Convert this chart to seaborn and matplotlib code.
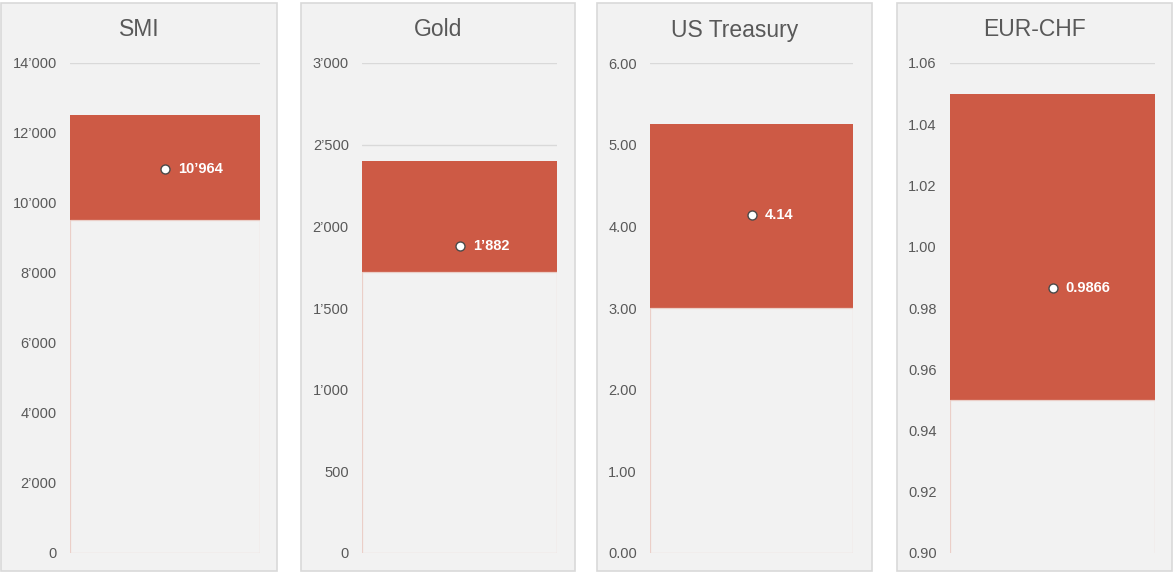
import numpy as np
import pandas as pd
import matplotlib
matplotlib.use("Agg")
import matplotlib.pyplot as plt
from matplotlib.patches import Rectangle
from matplotlib.ticker import FuncFormatter, MultipleLocator
import seaborn as sns

# ranges per market
names = ["SMI", "Gold", "US Treasury", "EUR-CHF"]
low = [9500, 1720, 3.00, 0.95]
high = [12500, 2400, 5.25, 1.05]
current = [10964, 1882, 4.14, 0.9866]
current_labels = ["10\u2019964", "1\u2019882", "4.14", "0.9866"]

# axis settings
y_min = [0, 0, 0, 0.90]
y_max = [14000, 3000, 6.00, 1.06]
y_step = [2000, 500, 1.00, 0.02]
tick_fmt = ["thousands", "thousands", "2f", "2f"]

sns.set_theme(style="white")
plt.rcParams["font.family"] = ["Liberation Sans", "DejaVu Sans"]

RED = "#CD5A45"
BG = "#F2F2F2"
TXT = "#595959"

fig = plt.figure(figsize=(11.74, 5.72), dpi=100)
fig.patch.set_facecolor("white")

W, H = 1174, 572
panels = [(1, 277), (301, 575), (597, 872), (897, 1172)]
plot_x = [(70, 260), (362, 557), (650, 853), (950, 1155)]
top_px, bot_px = 63, 553


def fmt_thousands(v, pos):
    return f"{int(round(v)):,}".replace(",", "\u2019")


for i, name in enumerate(names):
    px0, px1 = panels[i]
    fig.patches.append(Rectangle((px0 / W, 1 / H), (px1 - px0) / W, (568) / H,
                                 transform=fig.transFigure, facecolor=BG,
                                 edgecolor="#D9D9D9", linewidth=1.2, zorder=-10))
    fig.text((px0 + px1) / 2 / W, 1 - 30 / H, name, ha="center", va="center",
             fontsize=16.5, color=TXT)

    x0, x1 = plot_x[i]
    ax = fig.add_axes([x0 / W, 1 - bot_px / H, (x1 - x0) / W, (bot_px - top_px) / H])
    ax.set_facecolor("none")

    df = pd.DataFrame({"market": [name], "high": [high[i]], "low": [low[i]],
                       "current": [current[i]]})
    sns.barplot(data=df, x="market", y="high", color=RED, width=1.0,
                saturation=1, edgecolor=RED, linewidth=0, ax=ax, zorder=2)
    sns.barplot(data=df, x="market", y="low", color=BG, width=1.0,
                saturation=1, edgecolor="#EBCFC8", linewidth=0.9, ax=ax, zorder=3)
    sns.scatterplot(x=[0], y=df["current"], s=42, color="white",
                    edgecolor="#4A4A4A", linewidth=1.0, ax=ax, zorder=5)
    ax.annotate(current_labels[i], (0, current[i]), xytext=(9.5, 0),
                textcoords="offset points", color="white", fontsize=10.5,
                fontweight="bold", va="center", ha="left", zorder=6)

    ax.set_xlim(-0.5, 0.5)
    ax.set_ylim(y_min[i], y_max[i])
    ax.yaxis.set_major_locator(MultipleLocator(y_step[i]))
    if tick_fmt[i] == "thousands":
        ax.yaxis.set_major_formatter(FuncFormatter(fmt_thousands))
    else:
        ax.yaxis.set_major_formatter(FuncFormatter(lambda v, p: f"{v:.2f}"))
    ax.yaxis.grid(True, color="#D9D9D9", linewidth=1)
    ax.set_axisbelow(True)
    ax.set_xticks([])
    ax.set_xlabel("")
    ax.set_ylabel("")
    ax.tick_params(axis="y", length=0, pad=9.5, labelsize=10.5, labelcolor=TXT)
    for s in ax.spines.values():
        s.set_visible(False)

fig.savefig("out.png", dpi=100)
